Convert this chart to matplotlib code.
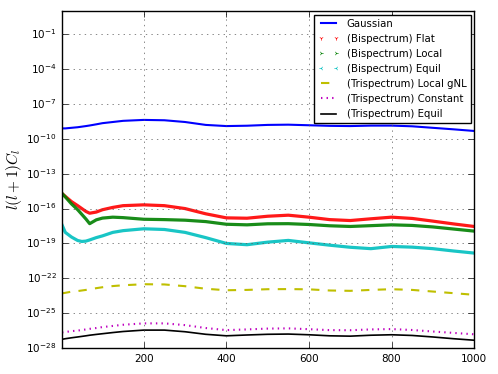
import numpy as np
import matplotlib
matplotlib.use("Agg")
import matplotlib.pyplot as plt
from matplotlib.lines import Line2D

plt.style.use("classic")
plt.rcParams["axes.unicode_minus"] = False
plt.rcParams["font.family"] = ["DejaVu Sans"]

ell = [2, 10, 25, 40, 50, 60, 69, 85, 100, 125, 150, 200, 250, 300, 350, 400, 450, 500,
       550, 600, 650, 700, 750, 800, 850, 900, 950, 1000]

# log10 of l(l+1)C_l
gaussian = [-9.1, -9.1, -9.05, -9.0, -8.95, -8.9, -8.85, -8.75, -8.65, -8.55, -8.45, -8.37, -8.4,
            -8.55, -8.8, -8.9, -8.87, -8.8, -8.78, -8.83, -8.88, -8.9, -8.86,
            -8.86, -8.92, -9.05, -9.18, -9.32]
bi_flat = [-14.7, -14.95, -15.4, -15.75, -16.0, -16.25, -16.4, -16.3, -16.1, -15.9, -15.75, -15.68, -15.75,
           -16.0, -16.45, -16.8, -16.83, -16.66, -16.57, -16.74, -16.95, -17.03, -16.88,
           -16.74, -16.85, -17.08, -17.32, -17.54]
bi_local = [-14.7, -15.0, -15.6, -16.1, -16.5, -16.9, -17.3, -16.97, -16.82, -16.74, -16.78, -16.92, -16.95,
            -17.0, -17.12, -17.35, -17.4, -17.31, -17.3, -17.37, -17.48, -17.54, -17.47,
            -17.4, -17.45, -17.58, -17.76, -17.94]
bi_equil = [-17.4, -18.05, -18.45, -18.75, -18.83, -18.8, -18.7, -18.5, -18.35, -18.05, -17.9, -17.74, -17.8,
            -18.05, -18.5, -19.0, -19.11, -18.89, -18.74, -18.95, -19.15, -19.33, -19.45,
            -19.26, -19.32, -19.45, -19.65, -19.83]
tri_gnl = [-23.3, -23.25, -23.15, -23.1, -23.05, -23.0, -22.95, -22.85, -22.77, -22.67, -22.6, -22.51, -22.53,
           -22.68, -22.9, -23.03, -23.0, -22.94, -22.93, -22.95, -23.05, -23.08, -23.0,
           -22.94, -23.0, -23.14, -23.28, -23.42]
tri_const = [-26.66, -26.62, -26.55, -26.5, -26.45, -26.4, -26.35, -26.28, -26.2, -26.1, -26.0, -25.88, -25.88,
             -26.03, -26.28, -26.46, -26.4, -26.33, -26.31, -26.38, -26.46, -26.47, -26.4,
             -26.37, -26.45, -26.58, -26.7, -26.82]
tri_equil = [-27.25, -27.2, -27.12, -27.05, -27.0, -26.95, -26.9, -26.83, -26.77, -26.67, -26.58, -26.46, -26.46,
             -26.6, -26.82, -26.95, -26.88, -26.82, -26.8, -26.86, -26.95, -26.98, -26.9,
             -26.86, -26.92, -27.05, -27.2, -27.33]

labels = ["Gaussian", "(Bispectrum) Flat", "(Bispectrum) Local", "(Bispectrum) Equil",
          "(Trispectrum) Local gNL", "(Trispectrum) Constant", "(Trispectrum) Equil"]

fig = plt.figure(figsize=(4.98, 3.74), dpi=100, facecolor="white")
ax = fig.add_axes([0.1245, 0.0695, 0.8275, 0.901])

l = np.array(ell)
p = lambda v: 10.0 ** np.array(v)

ax.plot(l, p(gaussian), color="b", lw=1.5)
ax.plot(l, p(bi_flat), color="r", lw=2.3, alpha=0.9)
ax.plot(l, p(bi_local), color="g", lw=2.3, alpha=0.9)
ax.plot(l, p(bi_equil), color="c", lw=2.3, alpha=0.9)
ax.plot(l, p(tri_gnl), color="y", ls="--", lw=1.5)
ax.plot(l, p(tri_const), color="m", ls=":", lw=1.5)
ax.plot(l, p(tri_equil), color="k", ls="-", lw=1.2)

ax.set_yscale("log")
ax.set_xlim(2, 1000)
ax.set_ylim(1e-28, 1e1)
ax.set_yticks([10.0 ** k for k in range(-28, 0, 3)])
ax.yaxis.set_minor_locator(matplotlib.ticker.NullLocator())
ax.set_xticks([200, 400, 600, 800, 1000])
ax.tick_params(labelsize=7.5)
ax.grid(True, color="0.35", ls=":", lw=0.5)
ax.set_ylabel(r"$l(l+1)C_l$", fontsize=11)
ax.yaxis.set_label_coords(-0.093, 0.5)

handles = [
    Line2D([], [], color="b", lw=1.5),
    Line2D([], [], color="r", marker="1", ls="none", ms=3),
    Line2D([], [], color="g", marker="4", ls="none", ms=3),
    Line2D([], [], color="c", marker="3", ls="none", ms=3),
    Line2D([], [], color="y", ls="--", lw=1.5),
    Line2D([], [], color="m", ls=":", lw=1.5),
    Line2D([], [], color="k", lw=1.2),
]
ax.legend(handles, labels, loc="upper right", fontsize=7.3, numpoints=2,
          handlelength=2.0, borderaxespad=0.35, framealpha=1)

fig.savefig("out.png", dpi=100, facecolor="white")
